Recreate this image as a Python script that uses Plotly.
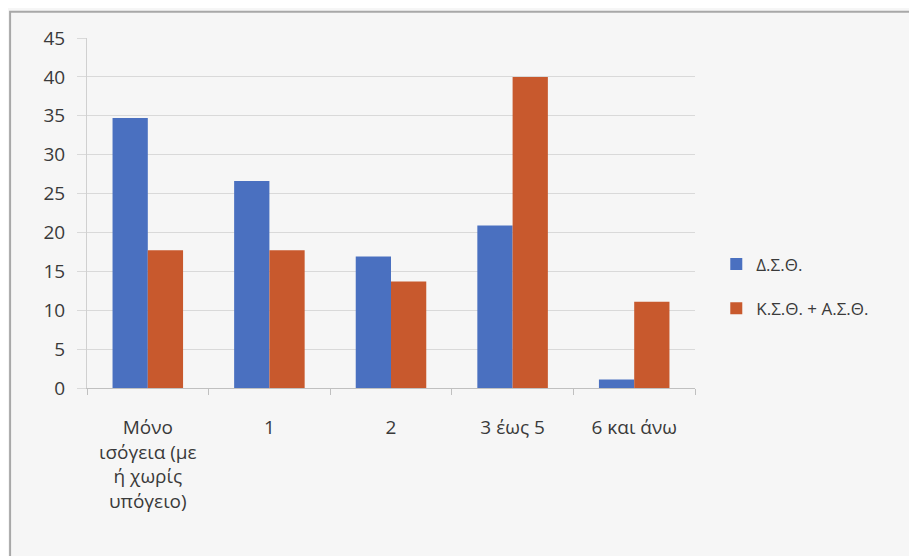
import plotly.graph_objects as go

categories = ["Μόνο<br>ισόγεια (με<br>ή χωρίς<br>υπόγειο)", "1", "2", "3 έως 5", "6 και άνω"]
series_names = ["Δ.Σ.Θ.", "Κ.Σ.Θ. + Α.Σ.Θ."]
dsth = [34.7, 26.6, 16.9, 20.9, 1.1]
ksth_asth = [17.7, 17.7, 13.7, 40.0, 11.1]
y_ticks = [0, 5, 10, 15, 20, 25, 30, 35, 40, 45]

colors = ["#4a70c0", "#c8592d"]
font_family = "Open Sans, Noto Sans, DejaVu Sans, sans-serif"
text_color = "#3a3a3a"

fig = go.Figure()
for name, vals, col, grp in [(series_names[0], dsth, colors[0], "a"),
                             (series_names[1], ksth_asth, colors[1], "b")]:
    fig.add_trace(go.Bar(x=categories, y=vals, name=name, marker_color=col,
                         marker_line_width=0, legendgroup=grp))

fig.update_layout(
    width=917, height=556,
    paper_bgcolor="#f6f6f6", plot_bgcolor="rgba(0,0,0,0)",
    margin=dict(l=79, r=230, t=30, b=176),
    barmode="group", bargap=0.42, bargroupgap=0,
    font=dict(family=font_family, size=19, color=text_color),
    showlegend=True,
    legend=dict(x=1.035, y=0.29, xanchor="left", yanchor="middle",
                font=dict(size=17, color=text_color), bgcolor="rgba(0,0,0,0)",
                traceorder="grouped", tracegroupgap=19, itemwidth=30),
    shapes=[dict(type="path", xref="paper", yref="paper",
                 path="M -0.1265,-0.60 L -0.1265,1.075 L 1.45,1.075",
                 line=dict(color="#a8a8a8", width=2), layer="below")],
)
fig.update_yaxes(range=[0, 45], tickvals=y_ticks, showgrid=True, gridcolor="#d9d9d9",
                 gridwidth=1, showline=True, linecolor="#d0d0d0", ticks="outside",
                 ticklen=9, tickcolor="#d9d9d9", zeroline=False, ticklabelstandoff=8,
                 tickfont=dict(size=19, color=text_color))
fig.update_xaxes(showline=True, linecolor="#c0c0c0", linewidth=1, ticks="outside",
                 tickson="boundaries", ticklen=6, tickcolor="#c0c0c0",
                 tickfont=dict(size=19, color=text_color), ticklabelstandoff=22)

fig.write_html("out.html")
